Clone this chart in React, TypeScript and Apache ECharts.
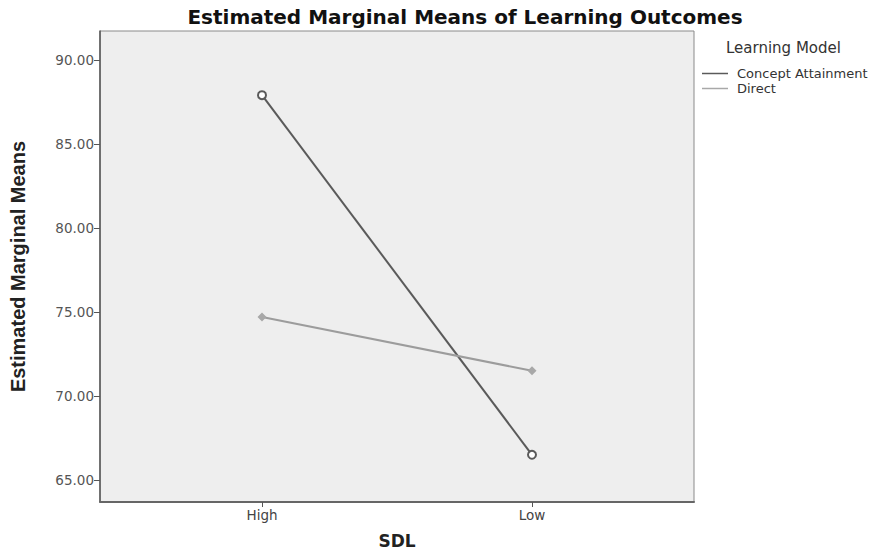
import React, { useEffect, useRef } from "react";
import * as echarts from "echarts";

const categories = ["High", "Low"];
const seriesNames = ["Concept Attainment", "Direct"];
const conceptValues = [87.9, 66.5];
const directValues = [74.7, 71.5];
const yTicks = [65, 70, 75, 80, 85, 90];

const tickFont = "DejaVu Sans";

export default function App() {
  const ref = useRef<HTMLDivElement>(null);
  useEffect(() => {
    if (!ref.current) return;
    const chart = echarts.init(ref.current, undefined, { renderer: "svg" });
    const xPos = categories.map((_, i) => i + 1);
    chart.setOption({
      animation: false,
      backgroundColor: "#ffffff",
      title: [
        {
          text: "Estimated Marginal Means of Learning Outcomes",
          left: 460,
          textAlign: "center",
          top: 2,
          textStyle: { fontFamily: "DejaVu Sans", fontWeight: "bold", fontSize: 20, color: "#111" },
        },
        {
          text: "Learning Model",
          left: 721,
          top: 35,
          textStyle: { fontFamily: tickFont, fontWeight: "normal", fontSize: 15, color: "#333" },
        },
      ],
      legend: {
        orient: "vertical",
        left: 697,
        top: 62,
        itemGap: 2,
        itemWidth: 26,
        itemHeight: 1.5,
        icon: "rect",
        itemStyle: { borderWidth: 0 },
        lineStyle: { width: 1.5 },
        textStyle: { fontFamily: tickFont, fontSize: 13, color: "#333", padding: [0, 0, 0, 4] },
        data: seriesNames,
      },
      grid: {
        left: 100,
        right: 179,
        top: 31,
        bottom: 51,
        containLabel: false,
        outerBoundsMode: "none",
        show: true,
        backgroundColor: "#eeeeee",
        borderColor: "#8a8a8a",
        borderWidth: 1,
      },
      xAxis: {
        type: "value",
        min: 0.4,
        max: 2.6,
        name: "SDL",
        nameLocation: "middle",
        nameGap: 30,
        nameTextStyle: { fontFamily: "DejaVu Sans", fontWeight: "bold", fontSize: 17, color: "#222" },
        axisLine: { show: true, lineStyle: { color: "#666", width: 2 } },
        axisTick: { show: true, length: 5, inside: false, customValues: xPos, lineStyle: { color: "#555" } },
        axisLabel: {
          customValues: xPos,
          formatter: (v: number) => categories[Math.round(v) - 1] ?? "",
          fontFamily: tickFont,
          fontSize: 13.5,
          color: "#444",
          margin: 6,
        },
        splitLine: { show: false },
      },
      yAxis: {
        type: "value",
        min: 63.69,
        max: 91.72,
        name: "Estimated Marginal Means",
        nameLocation: "middle",
        nameGap: 72,
        nameTextStyle: { fontFamily: "Liberation Sans", fontWeight: "bold", fontSize: 20, color: "#222" },
        axisLine: { show: true, lineStyle: { color: "#555", width: 1.5 } },
        axisTick: { show: true, length: 6, customValues: yTicks, lineStyle: { color: "#555" } },
        axisLabel: {
          customValues: yTicks,
          formatter: (v: number) => v.toFixed(2),
          fontFamily: tickFont,
          fontSize: 13.5,
          color: "#555",
          margin: 6,
        },
        splitLine: { show: false },
      },
      series: [
        {
          name: seriesNames[0],
          type: "line",
          data: xPos.map((x, i) => [x, conceptValues[i]]),
          symbol: "emptyCircle",
          symbolSize: 8,
          lineStyle: { color: "#5a5a5a", width: 2 },
          itemStyle: { color: "#5a5a5a", borderColor: "#5a5a5a", borderWidth: 1.5 },
        },
        {
          name: seriesNames[1],
          type: "line",
          data: xPos.map((x, i) => [x, directValues[i]]),
          symbol: "diamond",
          symbolSize: 9,
          lineStyle: { color: "#9c9c9c", width: 2 },
          itemStyle: { color: "#a8a8a8" },
        },
      ],
    });
    return () => chart.dispose();
  }, []);
  return (
    <div
      ref={ref}
      style={{ position: "fixed", left: 0, top: 0, width: 873, height: 553, background: "#fff" }}
    />
  );
}
